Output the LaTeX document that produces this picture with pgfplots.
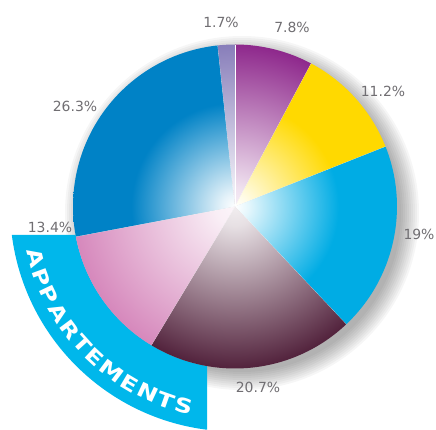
\documentclass[border=0pt]{standalone}
\usepackage{pgfplots}
\pgfplotsset{compat=1.18}
\usepackage{fontspec}
\setmainfont{DejaVu Sans}
\newfontfamily\bandfont[FakeStretch=1.25]{DejaVu Sans}
\usetikzlibrary{decorations.text}

\definecolor{cPurple}{RGB}{142,40,140}
\definecolor{cYellow}{RGB}{255,217,0}
\definecolor{cCyan}{RGB}{0,172,228}
\definecolor{cMaroon}{RGB}{82,34,60}
\definecolor{cPink}{RGB}{214,136,188}
\definecolor{cBlue}{RGB}{0,130,198}
\definecolor{cLav}{RGB}{136,126,186}
\definecolor{cBand}{RGB}{0,183,235}
\definecolor{cLabel}{RGB}{112,110,114}

\colorlet{piecol}{cBlue}
% quick fade (saturated slices) and slow fade (dark slices)
\pgfdeclareradialshading[piecol]{fastshade}{\pgfpointorigin}{%
  color(0bp)=(white); color(2bp)=(piecol!10!white);
  color(16bp)=(piecol); color(25bp)=(piecol); color(50bp)=(piecol)}
\pgfdeclareradialshading[piecol]{slowshade}{\pgfpointorigin}{%
  color(0bp)=(piecol!8!white); color(3bp)=(piecol!14!white);
  color(25bp)=(piecol); color(50bp)=(piecol)}

% centre and radii, in axis units (1 unit = 1bp)
\def\cx{235}\def\cy{223.5}\def\R{162}\def\Rb{225}
\def\ytop{195}\def\xr{207}

\begin{document}
\begin{tikzpicture}
\begin{axis}[
  width=436bp, height=430bp, scale only axis, hide axis,
  xmin=0, xmax=436, ymin=0, ymax=430, clip=false
]
\addplot[draw=none] coordinates {(0,0) (436,430)};

\pgfplotsextra{
  % soft shadow
  \foreach \i in {0,...,9}{
    \pgfmathsetmacro\rr{159+2*\i}
    \fill[black,opacity=0.035] (axis cs:242,217) circle[radius=\rr bp];
  }
  % band behind the lower-left
  \pgfmathsetmacro\oa{180+asin((\cy-\ytop)/\Rb)}
  \pgfmathsetmacro\ob{270-asin((\cx-\xr)/\Rb)}
  \pgfmathsetmacro\ia{180+asin((\cy-\ytop)/\R)}
  \pgfmathsetmacro\ib{270-asin((\cx-\xr)/\R)}
  \fill[cBand] (axis cs:{\cx+\Rb*cos(\oa)},{\cy+\Rb*sin(\oa)})
    arc[start angle=\oa, end angle=\ob, radius=\Rb bp]
    -- (axis cs:{\cx+\R*cos(\ib)},{\cy+\R*sin(\ib)})
    arc[start angle=\ib, end angle=\ia, radius=\R bp] -- cycle;
  % slices, clockwise from 12 o'clock
  \gdef\pa{90}
  \foreach \v/\c/\s in {7.8/cPurple/slowshade, 11.2/cYellow/fastshade,
                        19/cCyan/fastshade, 20.7/cMaroon/slowshade,
                        13.4/cPink/slowshade, 26.3/cBlue/fastshade,
                        1.7/cLav/slowshade}{
    \pgfmathsetmacro\pb{\pa-\v*360/100.1}
    \colorlet{piecol}{\c}
    \begin{scope}
      \clip (axis cs:\cx,\cy) -- ++(\pa:\R bp)
        arc[start angle=\pa, end angle=\pb, radius=\R bp] -- cycle;
      \shade[shading=\s] (axis cs:\cx,\cy) circle[radius=\R bp];
    \end{scope}
    \draw[white,line width=0.3pt] (axis cs:\cx,\cy) -- ++(\pb:\R bp);
    \xdef\pa{\pb}
  }
  % band text
  \path[decorate, decoration={text along path,
      text={|\bandfont\bfseries\fontsize{20}{20}\selectfont|APPARTEMENTS},
      text color=white, text align={fit to path}}]
    (axis cs:{\cx+213*cos(192)},{\cy+213*sin(192)})
    arc[start angle=192, end angle=258, radius=213bp];
  % value labels (image coordinates, y measured from the top)
  \foreach \t/\x/\y in {1.7/221/22, 7.8/292/27, 11.2/383/91, 19/419/234,
                        20.7/258/387, 13.4/50/227, 26.3/75/106}{
    \node[text=cLabel, font=\fontsize{14}{14}\selectfont, inner sep=0pt]
      at (axis cs:\x,{430-\y}) {\t\%};
  }
}
\end{axis}
\end{tikzpicture}
\end{document}
